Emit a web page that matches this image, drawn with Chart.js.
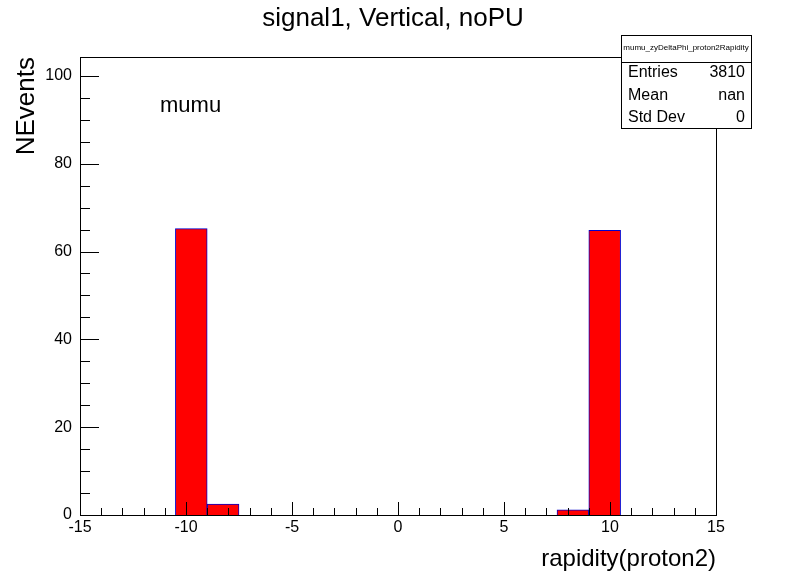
<!DOCTYPE html>
<html>
<head>
<meta charset="utf-8">
<script src="https://cdn.jsdelivr.net/npm/chart.js@4/dist/chart.umd.min.js"></script>
<style>
  body { margin: 0; background: #fff; }
  #wrap { width: 796px; height: 572px; }
</style>
</head>
<body>
<div id="wrap"><canvas id="c"></canvas></div>
<script>
// histogram bins: 20 bins of width 1.5 from -15 to 15
const binCenters = [-14.25, -12.75, -11.25, -9.75, -8.25, -6.75, -5.25, -3.75, -2.25, -0.75,
                    0.75, 2.25, 3.75, 5.25, 6.75, 8.25, 9.75, 11.25, 12.75, 14.25];
const binCounts = [0, 0, 0, 65.2, 2.5, 0, 0, 0, 0, 0,
                   0, 0, 0, 0, 0, 1.2, 64.8, 0, 0, 0];
const xTicks = [-15, -10, -5, 0, 5, 10, 15];
const yTicks = [0, 20, 40, 60, 80, 100];
const statsRows = [['Entries', '3810'], ['Mean', 'nan'], ['Std Dev', '0']];

const font = '"Liberation Sans", Arial, sans-serif';

const rootStyle = {
  id: 'rootStyle',
  afterDraw(chart) {
    const ctx = chart.ctx;
    const a = chart.chartArea;
    const xs = chart.scales.x, ys = chart.scales.y;
    ctx.save();
    ctx.strokeStyle = '#000';
    ctx.lineWidth = 1;
    ctx.strokeRect(a.left + 0.5, a.top + 0.5, a.right - a.left, a.bottom - a.top);

    // x ticks, inward
    ctx.beginPath();
    for (let v = -15; v <= 15; v++) {
      const px = Math.round(xs.getPixelForValue(v)) + 0.5;
      const len = v % 5 === 0 ? 13 : 7;
      ctx.moveTo(px, a.bottom); ctx.lineTo(px, a.bottom - len);
    }
    // y ticks, inward
    for (let v = 0; v <= 104; v += 5) {
      const py = Math.round(ys.getPixelForValue(v)) + 0.5;
      const len = v % 20 === 0 ? 19 : 10;
      ctx.moveTo(a.left, py); ctx.lineTo(a.left + len, py);
    }
    ctx.stroke();

    ctx.fillStyle = '#000';
    ctx.font = '16px ' + font;
    ctx.textAlign = 'center'; ctx.textBaseline = 'top';
    xTicks.forEach(v => ctx.fillText(String(v), xs.getPixelForValue(v), a.bottom + 5));
    ctx.textAlign = 'right'; ctx.textBaseline = 'middle';
    yTicks.forEach(v => ctx.fillText(String(v), a.left - 8, ys.getPixelForValue(v)));

    // title and axis titles
    ctx.font = '26px ' + font;
    ctx.textAlign = 'center'; ctx.textBaseline = 'middle';
    ctx.fillText('signal1, Vertical, noPU', 393, 19);
    ctx.font = '24px ' + font;
    ctx.textAlign = 'right'; ctx.textBaseline = 'alphabetic';
    ctx.fillText('rapidity(proton2)', a.right, 566);
    ctx.save();
    ctx.translate(34, a.top);
    ctx.rotate(-Math.PI / 2);
    ctx.font = '26px ' + font;
    ctx.textAlign = 'right';
    ctx.fillText('NEvents', 0, 0);
    ctx.restore();
    ctx.font = '22px ' + font;
    ctx.textAlign = 'left'; ctx.textBaseline = 'middle';
    ctx.fillText('mumu', 160, 106);

    // stats box
    const bx = 621, by = 35, bw = 130, bh = 93;
    ctx.fillStyle = '#fff';
    ctx.fillRect(bx, by, bw, bh);
    ctx.strokeRect(bx + 0.5, by + 0.5, bw, bh);
    ctx.beginPath();
    ctx.moveTo(bx, by + 27.5); ctx.lineTo(bx + bw, by + 27.5);
    ctx.stroke();
    ctx.fillStyle = '#000';
    ctx.font = '8px ' + font;
    ctx.textAlign = 'center';
    ctx.fillText('mumu_zyDeltaPhi_proton2Rapidity', bx + bw / 2, by + 13);
    ctx.font = '16px ' + font;
    statsRows.forEach((r, i) => {
      const y = by + 38 + i * 22.5;
      ctx.textAlign = 'left'; ctx.fillText(r[0], bx + 7, y);
      ctx.textAlign = 'right'; ctx.fillText(r[1], bx + bw - 6, y);
    });
    ctx.restore();
  }
};

new Chart(document.getElementById('c'), {
  type: 'bar',
  data: {
    datasets: [{
      data: binCenters.map((x, i) => ({ x: x, y: binCounts[i] })),
      backgroundColor: '#ff0000',
      borderColor: '#0000cc',
      borderWidth: 1,
      borderSkipped: 'bottom',
      barPercentage: 1,
      categoryPercentage: 1
    }]
  },
  options: {
    responsive: true,
    maintainAspectRatio: false,
    animation: false,
    layout: { padding: { left: 80, right: 80, top: 57, bottom: 57 } },
    plugins: { legend: { display: false }, tooltip: { enabled: false } },
    scales: {
      x: { type: 'linear', min: -15, max: 15, offset: false, display: false },
      y: { min: 0, max: 104.3, display: false }
    }
  },
  plugins: [rootStyle]
});
</script>
</body>
</html>
